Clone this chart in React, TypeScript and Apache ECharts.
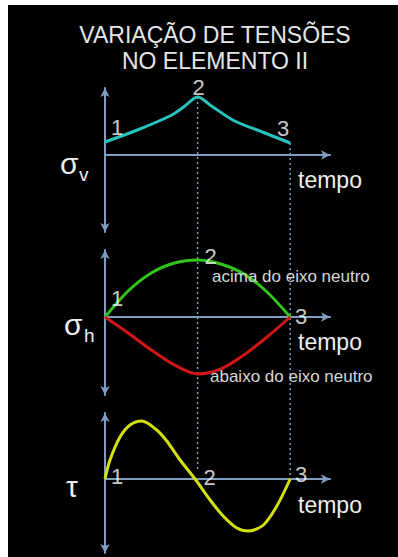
import React, { useEffect, useRef } from "react";
import * as echarts from "echarts";

// time axis: 1, 2, 3 at x = 0, 1, 2
const X_MAX = 2.43;

// σv (vertical stress) – panel 1
const sigmaV: [number, number][] = [
  [0, 1.3], [0.35, 2.5], [0.7, 3.9], [0.85, 4.8], [1, 5.8],
  [1.15, 4.9], [1.4, 3.4], [1.7, 2.3], [2, 1.2],
];
// σh above neutral axis – panel 2
const sigmaHTop: [number, number][] = [
  [0, 0], [0.25, 2.6], [0.5, 4.4], [0.75, 5.4], [1, 5.7],
  [1.25, 5.3], [1.5, 4.3], [1.75, 2.5], [2, 0],
];
// σh below neutral axis – panel 2
const sigmaHBottom: [number, number][] = [
  [0, 0], [0.25, -1.6], [0.5, -3.3], [0.75, -4.8], [1, -5.7],
  [1.25, -5.2], [1.5, -3.8], [1.75, -2.0], [2, 0],
];
// τ (shear) – panel 3
const tau: [number, number][] = [
  [0, 0], [0.054, 1.9], [0.162, 4.2], [0.27, 5.4], [0.397, 5.8],
  [0.559, 4.9], [0.667, 3.8], [0.811, 1.9], [0.973, 0], [1.135, -2.1],
  [1.276, -3.7], [1.424, -4.9], [1.55, -5.2], [1.711, -4.6], [1.856, -2.7], [2, 0],
];
// dotted guides (overlay axis, in panel-1 units)
const guideAt2: [number, number][] = [[1, 5.8], [1, -31.5]];
const guideAt3: [number, number][] = [[2, 1.2], [2, -32.4]];

const POINT_NAMES = ["1", "2", "3"];
const labelPts1: [number, number][] = [[0, 1.3], [1, 5.8], [2, 1.2]];
const labelPts2: [number, number][] = [[0, 0], [1, 5.7], [2, 0]];
const labelPts3: [number, number][] = [[0, 0], [1, 0], [2, 0]];

const Y_RANGES: [number, number][] = [
  [-7.7, 6.7],
  [-7.8, 6.7],
  [-7.4, 6.6],
  [-40.2, 6.7],
];

const AXIS_COLOR = "#7f9ec2";
const TEXT_COLOR = "#eceef0";
const FONT = "Liberation Sans";

export default function App() {
  const ref = useRef<HTMLDivElement>(null);
  useEffect(() => {
    document.body.style.margin = "0";
    const chart = echarts.init(ref.current!, null, { renderer: "svg" });
    const grids = [
      { left: 105, width: 225, top: 88, height: 144 },
      { left: 105, width: 225, top: 250, height: 145 },
      { left: 105, width: 225, top: 413, height: 140 },
      { left: 105, width: 225, top: 88, height: 469 },
    ];
    const xAxis = grids.map((_, i) => ({
      type: "value",
      gridIndex: i,
      min: 0,
      max: X_MAX,
      axisLine: {
        show: i < 3,
        onZero: true,
        symbol: ["none", "arrow"],
        symbolSize: [7, 9],
        lineStyle: { color: AXIS_COLOR, width: 2 },
      },
      axisTick: { show: false },
      axisLabel: { show: false },
      splitLine: { show: false },
    }));
    const yAxis = grids.map((_, i) => ({
      type: "value",
      gridIndex: i,
      min: Y_RANGES[i][0],
      max: Y_RANGES[i][1],
      axisLine: {
        show: i < 3,
        onZero: false,
        symbol: ["arrow", "arrow"],
        symbolSize: [7, 9],
        lineStyle: { color: AXIS_COLOR, width: 2 },
      },
      axisTick: { show: false },
      axisLabel: { show: false },
      splitLine: { show: false },
    }));

    const curve = (data: [number, number][], idx: number, color: string) => ({
      type: "line",
      xAxisIndex: idx,
      yAxisIndex: idx,
      data,
      smooth: 0.3,
      showSymbol: false,
      symbol: "none",
      lineStyle: { color, width: 3 },
      z: 5,
    });
    const guide = (data: [number, number][]) => ({
      type: "line",
      xAxisIndex: 3,
      yAxisIndex: 3,
      data,
      showSymbol: false,
      symbol: "none",
      lineStyle: { color: AXIS_COLOR, width: 1.5, type: [2, 3] },
      z: 3,
    });
    const labels = (pts: [number, number][], idx: number, offsets: number[][]) => ({
      type: "scatter",
      xAxisIndex: idx,
      yAxisIndex: idx,
      symbolSize: 0,
      z: 10,
      data: pts.map((p, k) => ({
        value: p,
        name: POINT_NAMES[k],
        label: {
          show: true,
          position: "inside",
          offset: offsets[k],
          formatter: "{b}",
          color: "#ffffff",
          fontSize: 22,
          fontFamily: FONT,
        },
      })),
    });

    const txt = (x: number, y: number, text: string, size: number, align = "left", color = TEXT_COLOR) => ({
      type: "text",
      x,
      y,
      style: {
        text,
        fill: color,
        font: `${size}px "${FONT}"`,
        textAlign: align,
        textVerticalAlign: "middle",
      },
      z: 20,
    });

    chart.setOption({
      animation: false,
      backgroundColor: "#ffffff",
      grid: grids,
      xAxis,
      yAxis,
      graphic: [
        { type: "rect", shape: { x: 8, y: 5, width: 390, height: 552 }, style: { fill: "#000000" }, z: -10 },
        txt(215, 35, "VARIAÇÃO DE TENSÕES", 23, "center", "#e4e6e8"),
        txt(215, 61, "NO ELEMENTO II", 23, "center", "#e4e6e8"),
        txt(60, 163, "σ", 30),
        txt(79, 174, "v", 19),
        txt(64, 324, "σ", 30),
        txt(84, 335, "h", 19),
        txt(66, 486, "τ", 30),
        txt(298, 180, "tempo", 23),
        txt(298, 342, "tempo", 23),
        txt(298, 505, "tempo", 23),
        txt(212, 276, "acima do eixo neutro", 17, "left", "#d4d7da"),
        txt(210, 376, "abaixo do eixo neutro", 17, "left", "#d4d7da"),
      ],
      series: [
        guide(guideAt2),
        guide(guideAt3),
        curve(sigmaV, 0, "#27c4bf"),
        curve(sigmaHTop, 1, "#31c41a"),
        curve(sigmaHBottom, 1, "#d01616"),
        curve(tau, 2, "#d3e010"),
        labels(labelPts1, 0, [[12, -15], [1, -10], [-7, -15]]),
        labels(labelPts2, 1, [[12, -19], [13, -4], [11, -1]]),
        labels(labelPts3, 2, [[12, -3], [12, -2], [11, -5]]),
      ],
    });
    return () => chart.dispose();
  }, []);
  return <div ref={ref} style={{ width: 398, height: 557 }} />;
}
